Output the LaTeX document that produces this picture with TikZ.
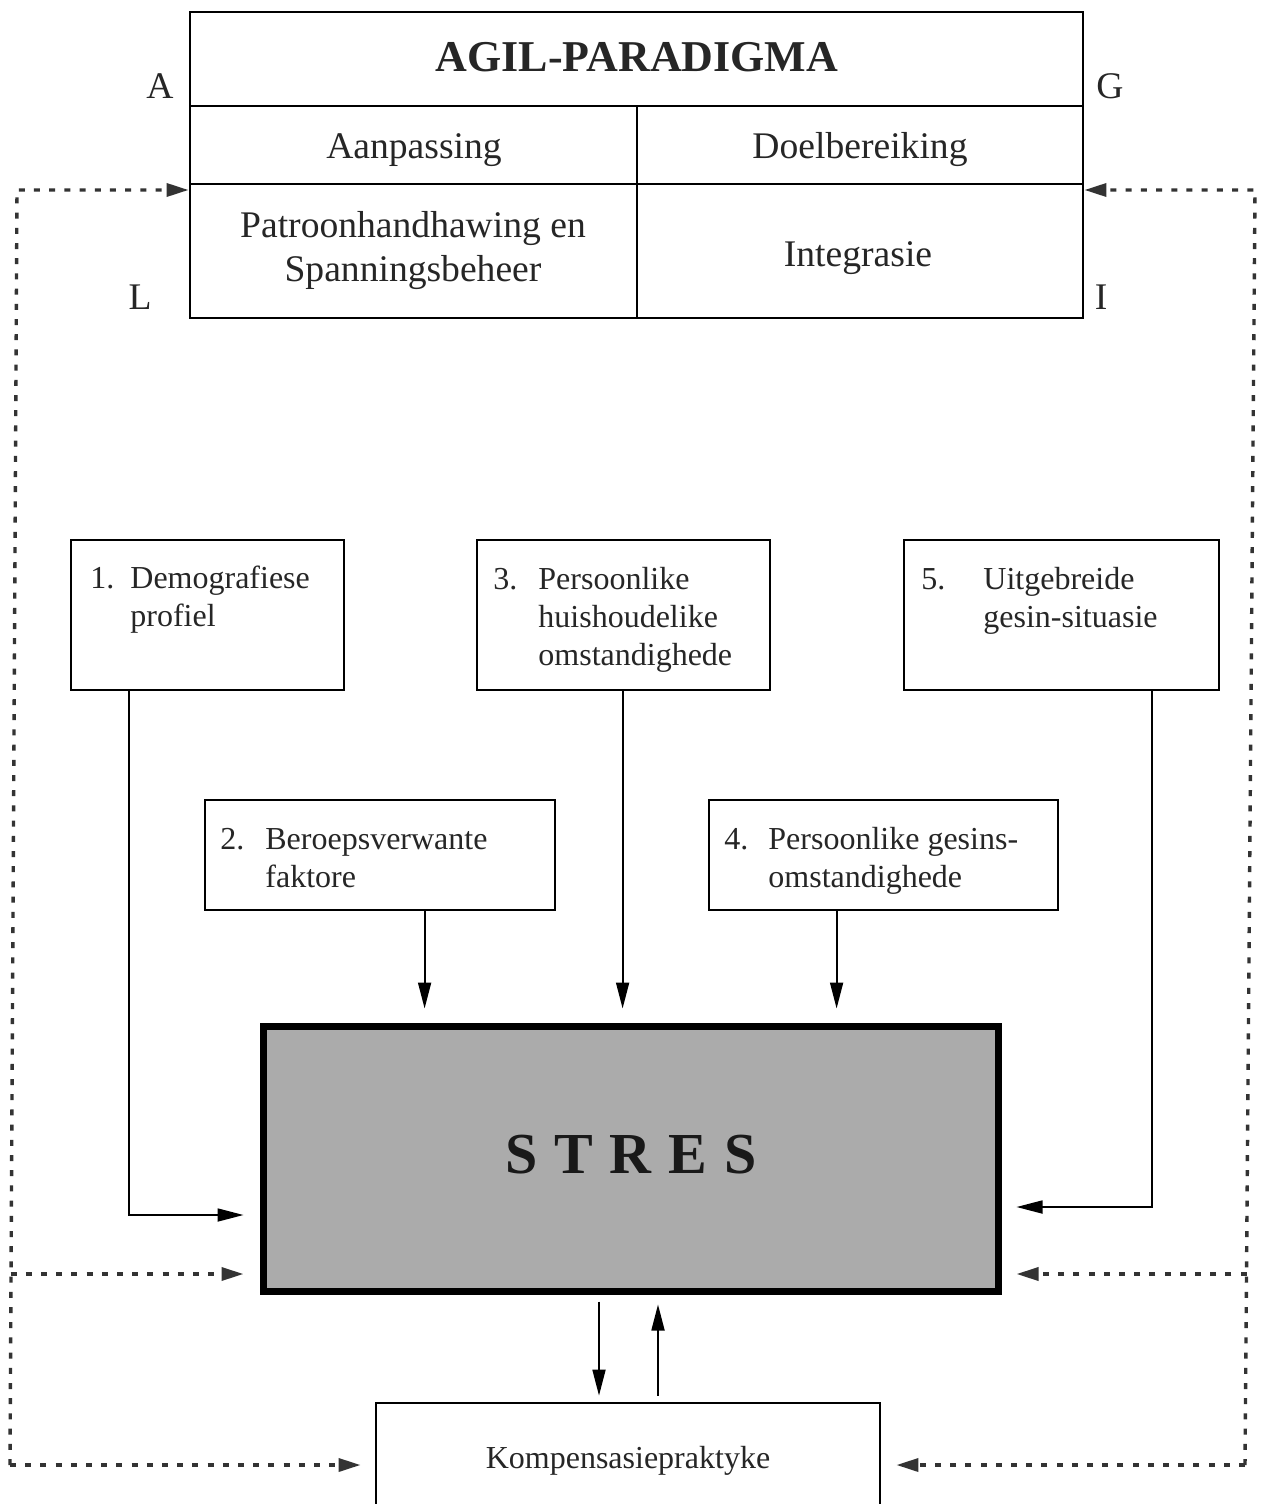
\documentclass[tikz,border=0pt]{standalone}
\usepackage{fontspec}
\setmainfont{Liberation Serif}
\newfontfamily\stresfont[WordSpace=1.17]{Liberation Serif}
\usetikzlibrary{fit,arrows.meta,calc}
\begin{document}
\begin{tikzpicture}[x=0.5pt,y=-0.5pt,
  frame/.style={draw, line width=1.4pt, inner sep=0pt},
  arr/.style={-{Triangle[length=13pt,width=6.5pt]}, line width=0.9pt},
  dotarr/.style={-{Triangle[length=11pt,width=6.5pt]}, line width=1.7pt, dash pattern=on 3pt off 4.6pt, draw=black!80},
  lbl/.style={inner sep=0pt, font=\fontsize{16}{19}\selectfont, text=black!85},
  cell/.style={inner sep=0pt, font=\fontsize{18.8}{22}\selectfont, text=black!85},
]
\clip (0,0) rectangle (1263,1504);
\fill[white] (0,0) rectangle (1263,1504);

% AGIL table
\node[frame, fit={(190,12)(1083,318)}] (agil) {};
\draw[line width=1.4pt] (190,106) -- (1083,106);
\draw[line width=1.4pt] (190,184) -- (1083,184);
\draw[line width=1.4pt] (637,106) -- (637,318);
\node[cell, anchor=base, font=\fontsize{22}{26}\selectfont\bfseries] (title) at (637,72) {AGIL-PARADIGMA};
\node[cell, anchor=base] (aan) at (414,158) {Aanpassing};
\node[cell, anchor=base] (doel) at (860,158) {Doelbereiking};
\node[cell, anchor=base, align=center] (pat) at (413,237) {\begin{tabular}[t]{@{}c@{}}Patroonhandhawing en\\[0pt]Spanningsbeheer\end{tabular}};
\node[cell, anchor=base] (integ) at (858,266) {Integrasie};
\node[cell, anchor=base] (la) at (160,98) {A};
\node[cell, anchor=base] (lg) at (1110,98) {G};
\node[cell, anchor=base] (ll) at (140,309) {L};
\node[cell, anchor=base] (li) at (1101,309) {I};

% factor boxes
\node[frame, fit={(71,540)(344,690)}] (b1) {};
\node[lbl, anchor=base west] (n1) at (90,588) {1.};
\node[lbl, anchor=base west] (t1) at (130,588) {\begin{tabular}[t]{@{}l@{}}Demografiese\\profiel\end{tabular}};

\node[frame, fit={(477,540)(770,690)}] (b3) {};
\node[lbl, anchor=base west] (n3) at (493,589) {3.};
\node[lbl, anchor=base west] (t3) at (538,589) {\begin{tabular}[t]{@{}l@{}}Persoonlike\\huishoudelike\\omstandighede\end{tabular}};

\node[frame, fit={(904,540)(1219,690)}] (b5) {};
\node[lbl, anchor=base west] (n5) at (921,589) {5.};
\node[lbl, anchor=base west] (t5) at (983,589) {\begin{tabular}[t]{@{}l@{}}Uitgebreide\\gesin-situasie\end{tabular}};

\node[frame, fit={(205,800)(555,910)}] (b2) {};
\node[lbl, anchor=base west] (n2) at (220,849) {2.};
\node[lbl, anchor=base west] (t2) at (265,849) {\begin{tabular}[t]{@{}l@{}}Beroepsverwante\\faktore\end{tabular}};

\node[frame, fit={(709,800)(1058,910)}] (b4) {};
\node[lbl, anchor=base west] (n4) at (724,849) {4.};
\node[lbl, anchor=base west] (t4) at (768,849) {\begin{tabular}[t]{@{}l@{}}Persoonlike gesins-\\omstandighede\end{tabular}};

% STRES
\node[draw, line width=3.5pt, fill=black!33, inner sep=0pt, fit={(263,1026)(998,1291)}] (stres) {};
\node[inner sep=0pt, anchor=base, font=\stresfont\fontsize{29}{34}\selectfont\bfseries, text=black!90] (stxt) at (631,1173) {S T R E S};

% Kompensasie
\node[frame, fit={(376,1403)(880,1530)}] (komp) {};
\node[lbl, anchor=base] (ktxt) at (628,1468) {Kompensasiepraktyke};

% solid connectors
\coordinate (p1) at ([xshift=29.5pt]b1.south west);
\coordinate (p2) at ([xshift=110.5pt]b2.south west);
\coordinate (p3) at ([xshift=73.5pt]b3.south west);
\coordinate (p4) at ([xshift=64.5pt]b4.south west);
\coordinate (p5) at ([xshift=124.5pt]b5.south west);
\draw[arr, shorten >=8pt] (p1) |- ([yshift=-28.25pt]stres.west);
\draw[arr, shorten >=7pt] (p2) -- (p2 |- stres.north);
\draw[arr, shorten >=7pt] (p3) -- (p3 |- stres.north);
\draw[arr, shorten >=7pt] (p4) -- (p4 |- stres.north);
\draw[arr, shorten >=7.5pt] (p5) |- ([yshift=-24.25pt]stres.east);

\coordinate (q1) at (599,1300);
\coordinate (q2) at (658,1300);
\draw[arr, shorten <=3.5pt, shorten >=3pt] (q1 |- stres.south) -- (q1 |- komp.north);
\draw[arr, shorten <=3pt, shorten >=5pt] (q2 |- komp.north) -- (q2 |- stres.south);

% dotted feedback loops
\coordinate (LT) at (17,190);
\coordinate (LM) at (10.6,1274);
\coordinate (LB) at (10,1465);
\coordinate (RT) at (1255,190);
\coordinate (RM) at (1246.5,1274);
\coordinate (RB) at (1245,1465);
\draw[dotarr] (LB) -- (LT) -- (LT -| agil.west);
\draw[dotarr] (RB) -- (RT) -- (RT -| agil.east);
\draw[dotarr, shorten >=8pt] (LM) -- (LM -| stres.west);
\draw[dotarr, shorten >=7.5pt] (RM) -- (RM -| stres.east);
\draw[dotarr, shorten >=7pt] (LB) -- (LB -| komp.west);
\draw[dotarr, shorten >=7.5pt] (RB) -- (RB -| komp.east);
\end{tikzpicture}
\end{document}
